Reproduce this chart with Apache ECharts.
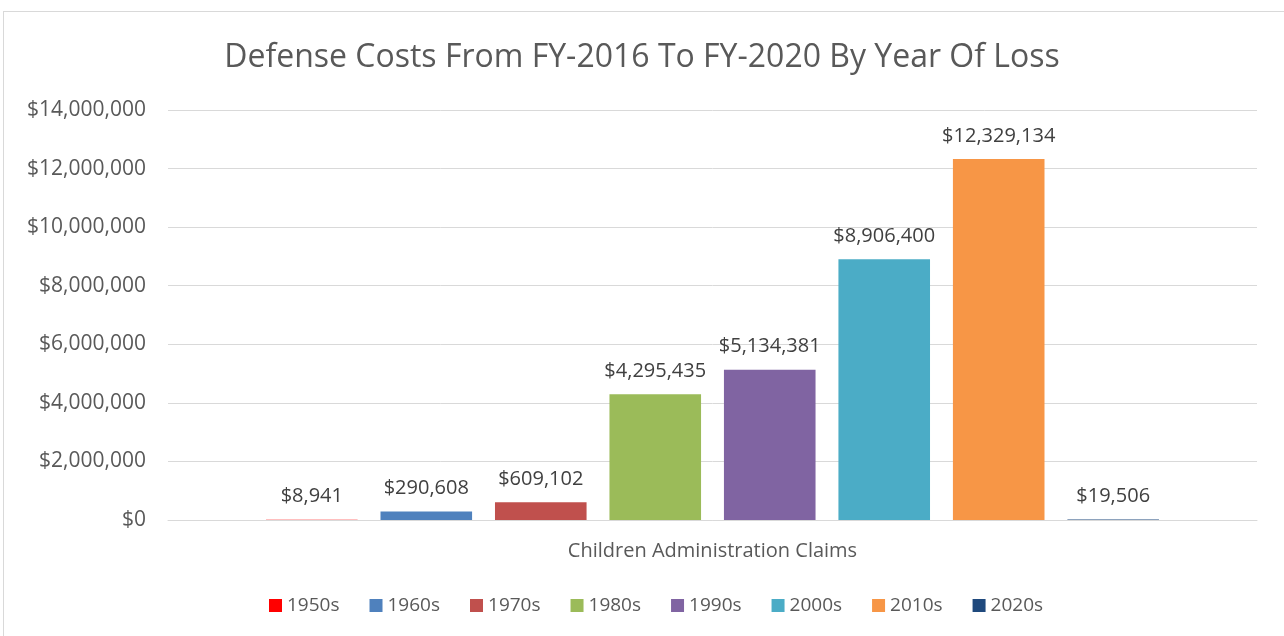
<!DOCTYPE html>
<html>
<head>
<meta charset="utf-8">
<script src="https://cdn.jsdelivr.net/npm/echarts@6/dist/echarts.min.js"></script>
<style>
  body { margin: 0; background: #fff; }
  .frame { position: absolute; left: 3px; top: 11px; width: 1300px; height: 640px; border: 1px solid #d9d9d9; }
  #myChart { position: absolute; left: 0; top: 0; width: 1284px; height: 636px; }
</style>
</head>
<body>
<div class="frame"></div>
<div id="myChart"></div>
<script>
// 数据
const categories = ["Children Administration Claims"];
const decades = ["1950s", "1960s", "1970s", "1980s", "1990s", "2000s", "2010s", "2020s"];
const costs = [8941, 290608, 609102, 4295435, 5134381, 8906400, 12329134, 19506];
const colors = ["#FF0000", "#4F81BD", "#C0504D", "#9BBB59", "#8064A2", "#4BACC6", "#F79646", "#1F497D"];
const yTicks = { min: 0, max: 14000000, interval: 2000000 };

const fontFamily = "'Open Sans', sans-serif";

function money(v) {
  return "$" + Math.round(v).toString().replace(/\B(?=(\d{3})+(?!\d))/g, ",");
}

let myChart = echarts.init(document.getElementById("myChart"));
myChart.setOption({
  animation: false,
  title: {
    text: "Defense Costs From FY-2016 To FY-2020 By Year Of Loss",
    left: "center",
    top: 37,
    textStyle: { fontFamily: fontFamily, fontSize: 32, fontWeight: "normal", color: "#595959" }
  },
  legend: {
    bottom: 16,
    left: 264,
    icon: "rect",
    itemWidth: 13,
    itemHeight: 13,
    itemGap: 30,
    textStyle: { fontFamily: fontFamily, fontSize: 19, color: "#595959" },
    data: decades
  },
  grid: { left: 168, right: 27, top: 110, bottom: 116 },
  xAxis: {
    type: "category",
    data: categories,
    axisTick: { show: false },
    axisLine: { lineStyle: { color: "#d9d9d9", width: 1 } },
    axisLabel: { fontFamily: fontFamily, fontSize: 20, color: "#595959", margin: 21 }
  },
  yAxis: {
    type: "value",
    min: yTicks.min,
    max: yTicks.max,
    interval: yTicks.interval,
    axisLine: { show: false },
    axisTick: { show: false },
    splitLine: { lineStyle: { color: "#d9d9d9", width: 1 } },
    axisLabel: { fontFamily: fontFamily, fontSize: 21, color: "#595959", margin: 22, formatter: money }
  },
  series: decades.map((d, i) => ({
    name: d,
    type: "bar",
    data: [costs[i]],
    itemStyle: { color: colors[i] },
    barGap: "25%",
    barCategoryGap: "18%",
    label: {
      show: true,
      position: "top",
      distance: 13,
      fontFamily: fontFamily,
      fontSize: 20,
      color: "#404040",
      formatter: p => money(p.value)
    }
  }))
});
</script>
</body>
</html>
